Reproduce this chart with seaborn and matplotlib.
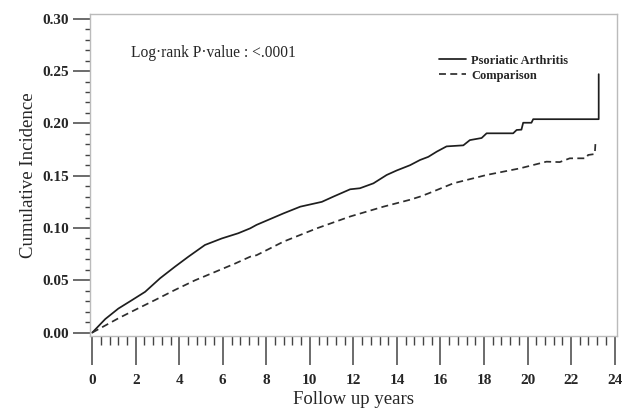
import numpy as np
import pandas as pd
import matplotlib
matplotlib.use("Agg")
import matplotlib.pyplot as plt
from matplotlib.ticker import MultipleLocator
import seaborn as sns

# cumulative incidence
psa_years = [0, 0.6, 1.2, 1.82, 2.43, 3.12, 3.8, 4.42, 5.18, 5.95, 6.71, 7.26, 7.55,
             8.79, 9.56, 10.55, 11.08, 11.85, 12.3, 12.92, 13.53, 13.99, 14.6, 15.06,
             15.44, 15.83, 16.28, 17.05, 17.35, 17.89, 18.12, 19.34, 19.5, 19.72, 19.8,
             20.18, 20.26, 23.27, 23.27]
psa_inc = [0, 0.013, 0.023, 0.031, 0.039, 0.052, 0.063, 0.0726, 0.0838, 0.090, 0.095,
           0.0997, 0.103, 0.114, 0.1204, 0.125, 0.130, 0.137, 0.138, 0.1427, 0.1507,
           0.155, 0.160, 0.165, 0.168, 0.173, 0.178, 0.179, 0.184, 0.186, 0.1905,
           0.1905, 0.1937, 0.194, 0.2006, 0.2006, 0.204, 0.204, 0.247]

comp_years = [0, 1.21, 2.12, 2.89, 3.8, 4.72, 5.64, 6.56, 7.26, 7.55, 8.79, 10.32,
              11.85, 13.38, 14.6, 15.06, 15.44, 16.59, 18.12, 19.65, 20.87, 21.48,
              21.94, 22.7, 22.78, 23.09, 23.12]
comp_inc = [0, 0.0138, 0.0233, 0.0312, 0.0408, 0.050, 0.058, 0.066, 0.0726, 0.074,
            0.087, 0.0997, 0.111, 0.1204, 0.127, 0.130, 0.133, 0.1427, 0.1507, 0.157,
            0.1634, 0.163, 0.1666, 0.1666, 0.1698, 0.1707, 0.181]

sns.set_theme(style="white")
plt.rcParams["font.family"] = ["Liberation Serif", "DejaVu Serif"]

fig = plt.figure(figsize=(6.3, 4.16), dpi=100)
ax = fig.add_axes([0.1429, 0.1923, 0.8361, 0.7740])

sns.lineplot(x=psa_years, y=psa_inc, ax=ax, estimator=None, sort=False,
             color="#1e1e1e", linewidth=1.25, label="Psoriatic Arthritis")
sns.lineplot(x=comp_years, y=comp_inc, ax=ax, estimator=None, sort=False,
             color="#2e2e2e", linewidth=1.25, linestyle=(0, (4, 2.5)), label="Comparison")

ax.set_xlim(-0.1, 24.1)
ax.set_ylim(-0.0032, 0.3045)
ax.xaxis.set_major_locator(MultipleLocator(2))
ax.xaxis.set_minor_locator(MultipleLocator(0.4))
ax.yaxis.set_major_locator(MultipleLocator(0.05))
ax.yaxis.set_minor_locator(MultipleLocator(0.01))
ax.yaxis.set_major_formatter(matplotlib.ticker.FormatStrFormatter("%.2f"))

ax.tick_params(axis="x", which="major", direction="out", length=21, width=1.1,
               color="#444444", pad=6, bottom=True)
ax.tick_params(axis="x", which="minor", direction="out", length=6.5, width=1.0,
               color="#444444", bottom=True)
ax.tick_params(axis="y", which="major", direction="out", length=12, width=1.1,
               color="#444444", pad=3, left=True)
ax.tick_params(axis="y", which="minor", direction="out", length=3.6, width=1.0,
               color="#444444", left=True)
for lab in ax.get_xticklabels() + ax.get_yticklabels():
    lab.set_fontweight("bold")
    lab.set_fontsize(11)

for s in ax.spines.values():
    s.set_color("#bbbbbb")
    s.set_linewidth(1.0)

ax.set_xlabel("Follow up years", fontsize=13.5, labelpad=3)
ax.set_ylabel("Cumulative Incidence", fontsize=13.5, labelpad=4)

ax.text(0.078, 0.88, "Log·rank P·value : <.0001", transform=ax.transAxes,
        fontsize=11.2, va="center", ha="left")

ax.legend(loc="upper left", bbox_to_anchor=(0.65, 0.893), frameon=False,
          prop={"weight": "bold", "size": 9}, handlelength=2.2,
          handletextpad=0.4, labelspacing=0.25, borderpad=0)

fig.savefig("out.png", dpi=100)
